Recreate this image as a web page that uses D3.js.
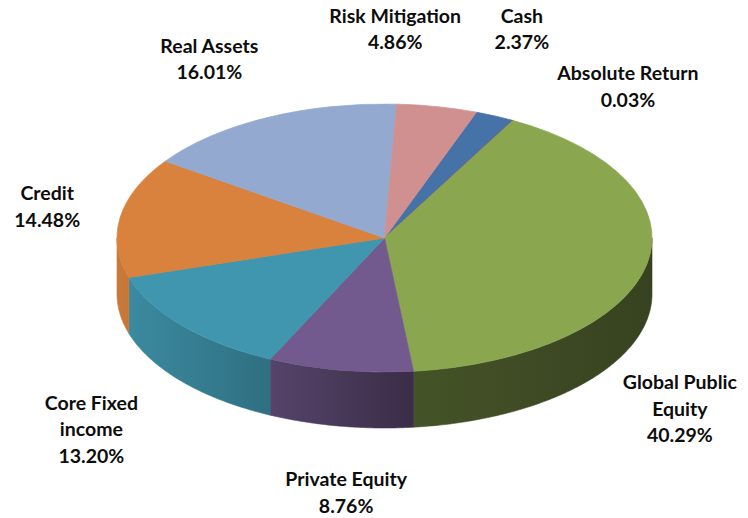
<!DOCTYPE html>
<html>
<head>
<meta charset="utf-8">
<script src="https://cdn.jsdelivr.net/npm/d3@7"></script>
<style>
  html, body { margin: 0; padding: 0; background: #fff; }
  text { font-family: Lato, "Open Sans", sans-serif; font-weight: bold; fill: #0d0d0d; }
</style>
</head>
<body>
<div id="chart"></div>
<script>
const categories = ['Cash', 'Absolute Return', 'Global Public Equity', 'Private Equity',
  'Core Fixed income', 'Credit', 'Real Assets', 'Risk Mitigation'];
const shares = [2.37, 0.03, 40.29, 8.76, 13.20, 14.48, 16.01, 4.86];
const labelLines = [['Cash'], ['Absolute Return'], ['Global Public', 'Equity'], ['Private Equity'],
  ['Core Fixed', 'income'], ['Credit'], ['Real Assets'], ['Risk Mitigation']];
const colors = ['#4572A7', '#B5504D', '#8AA64F', '#735A8E', '#4096AE', '#D8823D', '#94A9D0', '#CF908F'];

const width = 748, height = 518;
const cx = 384.5, cy = 238, rx = 267.5, ry = 134, depth = 56;
const startDeg = 20.1;

// label offsets from the slice's mid point on the top rim
const labelNudge = {
  'Cash': [27, -93], 'Absolute Return': [115, -40], 'Global Public Equity': [33, 125],
  'Private Equity': [6, 116], 'Core Fixed income': [-91, 84], 'Credit': [-73, -17],
  'Real Assets': [-57, -65], 'Risk Mitigation': [-42, -84]
};

const svg = d3.select('#chart').append('svg')
  .attr('width', width).attr('height', height);

const data = categories.map((c, i) => ({ name: c, value: shares[i], color: colors[i], lines: labelLines[i] }));

const a0 = startDeg * Math.PI / 180;
const pie = d3.pie().sort(null).value(d => d.value).startAngle(a0).endAngle(a0 + 2 * Math.PI);
const arcs = pie(data);

const arc = d3.arc().innerRadius(0).outerRadius(ry);

const defs = svg.append('defs');
const shade = [[0, 0.93], [0.29, 0.74], [0.557, 0.5], [1, 0.4]];
arcs.forEach((d, i) => {
  const g = defs.append('linearGradient').attr('id', 'side' + i)
    .attr('gradientUnits', 'userSpaceOnUse')
    .attr('x1', cx - rx).attr('x2', cx + rx).attr('y1', 0).attr('y2', 0);
  const c = d3.rgb(d.data.color);
  shade.forEach(([o, f]) => {
    g.append('stop').attr('offset', o)
      .attr('stop-color', d3.rgb(c.r * f, c.g * f, c.b * f).formatHex());
  });
});

const rim = t => [cx + rx * Math.sin(t), cy - ry * Math.cos(t)];
const line = d3.line();

function sidePath(s0, s1) {
  const parts = [];
  for (let k = 0; k < 2; k++) {
    const lo = Math.PI / 2 + 2 * Math.PI * k, hi = 3 * Math.PI / 2 + 2 * Math.PI * k;
    const s = Math.max(s0, lo), e = Math.min(s1, hi);
    if (s >= e) continue;
    const n = Math.max(2, Math.ceil((e - s) / 0.01));
    const top = d3.range(n + 1).map(j => rim(s + (e - s) * j / n));
    const bottom = top.slice().reverse().map(([x, y]) => [x, y + depth]);
    parts.push(line(top.concat(bottom)) + 'Z');
  }
  return parts.join('');
}

// outer walls
svg.append('g').selectAll('path')
  .data(arcs).join('path')
  .attr('d', d => sidePath(d.startAngle, d.endAngle))
  .attr('fill', (d, i) => `url(#side${i})`)
  .attr('stroke', (d, i) => `url(#side${i})`)
  .attr('stroke-width', 0.6);

// top faces
svg.append('g')
  .attr('transform', `translate(${cx},${cy}) scale(${rx / ry},1)`)
  .selectAll('path')
  .data(arcs).join('path')
  .attr('d', arc)
  .attr('fill', d => d.data.color)
  .attr('stroke', d => d.data.color)
  .attr('stroke-width', 0.5);

// labels
const lineGap = 26.5;
svg.append('g').selectAll('text')
  .data(arcs).join('text')
  .attr('text-anchor', 'middle')
  .style('font-size', '19.5px')
  .each(function (d) {
    const mid = (d.startAngle + d.endAngle) / 2;
    const [px, py] = rim(mid);
    const [dx, dy] = labelNudge[d.data.name];
    const lines = d.data.lines.concat([d.data.value.toFixed(2) + '%']);
    d3.select(this).selectAll('tspan')
      .data(lines).join('tspan')
      .attr('x', px + dx)
      .attr('y', (l, j) => py + dy + j * lineGap)
      .text(l => l);
  });
</script>
</body>
</html>
